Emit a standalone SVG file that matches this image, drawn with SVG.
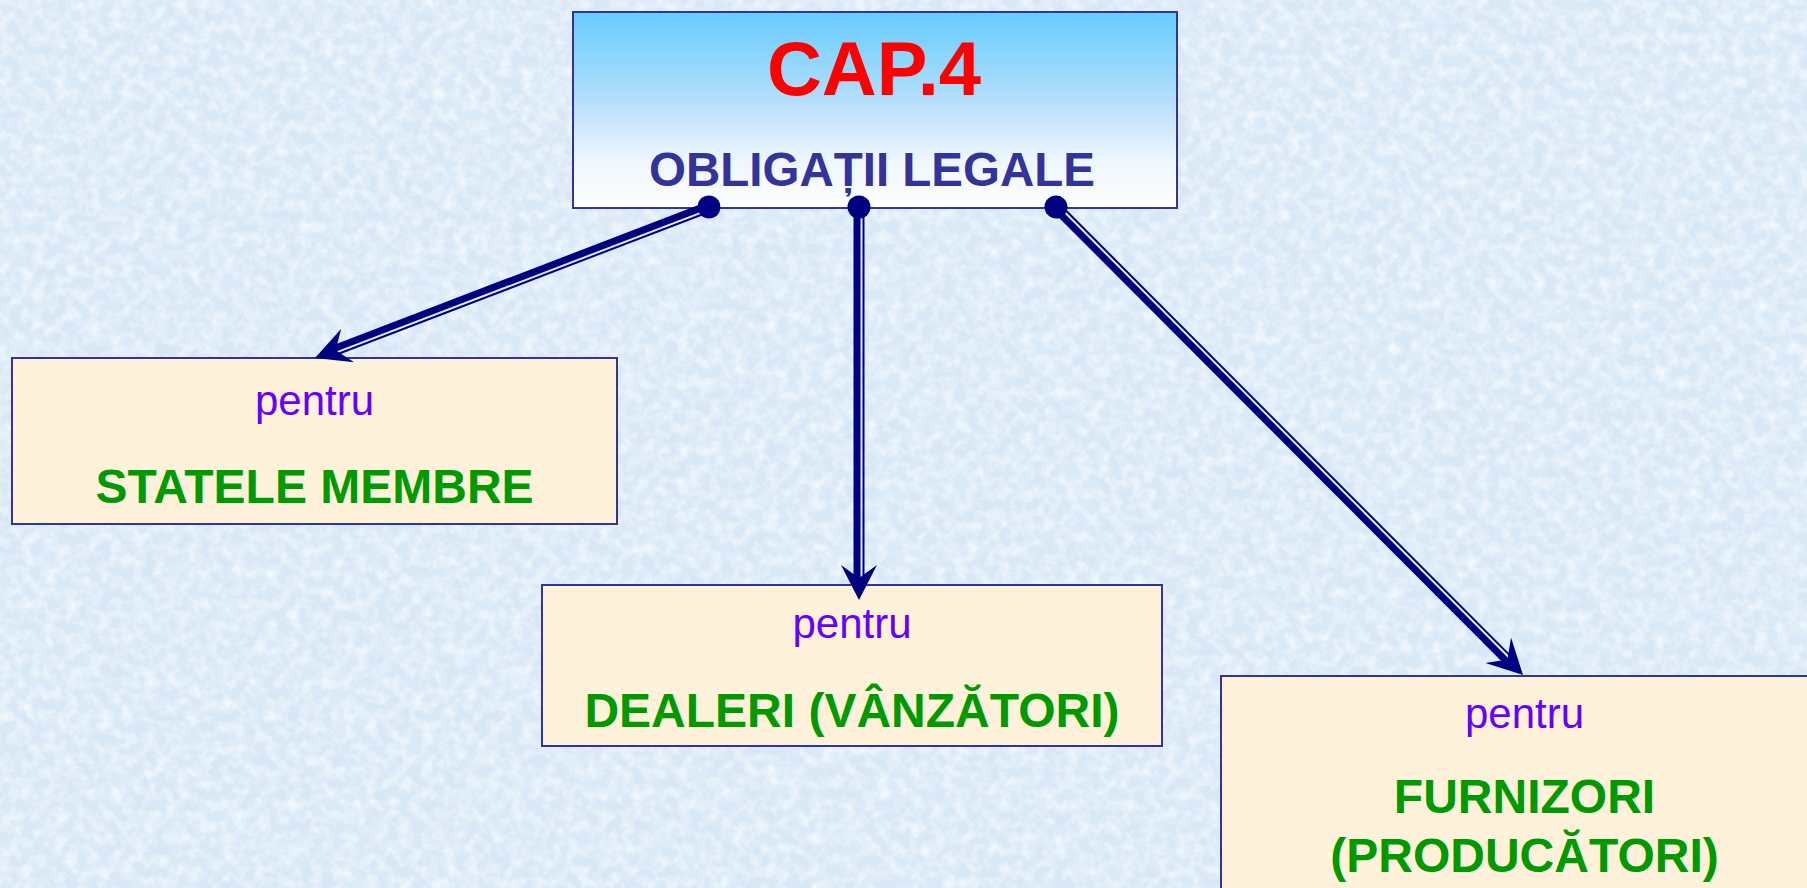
<svg xmlns="http://www.w3.org/2000/svg" width="1807" height="888" viewBox="0 0 1807 888">
<defs>
<style>
.t{font-family:"Liberation Sans",Arial,Helvetica,sans-serif;text-anchor:middle}
.b{font-weight:bold}
.box{stroke:#333399;stroke-width:2}
.yel{fill:#FEF2DA}
.pentru{font-size:42px;fill:#6600FF}
.green{font-size:48px;fill:#009900;font-weight:bold}
.thick{stroke:#000080;stroke-width:7;fill:none}
.thin{stroke:#000080;stroke-width:2;fill:none}
.axis{stroke:none;fill:none;marker-start:url(#dot);marker-end:url(#arrow)}
</style>
<linearGradient id="topgrad" x1="0" y1="0" x2="0" y2="1">
<stop offset="0" stop-color="#66CCFF"/>
<stop offset="0.45" stop-color="#B5DEFB"/>
<stop offset="0.75" stop-color="#EDF6FE"/>
<stop offset="1" stop-color="#FFFFFF"/>
</linearGradient>
<marker id="arrow" viewBox="-40 -40 80 80" markerWidth="80" markerHeight="80" markerUnits="userSpaceOnUse" refX="0" refY="0" orient="auto">
<path d="M0,0 L-35,-18 L-22,0 L-35,18 Z" fill="#000080"/>
</marker>
<marker id="dot" viewBox="-15 -15 30 30" markerWidth="30" markerHeight="30" markerUnits="userSpaceOnUse" refX="0" refY="0" orient="auto">
<circle cx="0" cy="0" r="11.5" fill="#000080"/>
</marker>
<filter id="tex" x="0" y="0" width="100%" height="100%">
<feTurbulence type="fractalNoise" baseFrequency="0.09" numOctaves="3" seed="7"/>
<feColorMatrix type="matrix" values="0 0 0 0 1  0 0 0 0 1  0 0 0 0 1  1.8 0 0 0 -0.65"/>
</filter>
<filter id="tex2" x="0" y="0" width="100%" height="100%">
<feTurbulence type="fractalNoise" baseFrequency="0.03" numOctaves="2" seed="21"/>
<feColorMatrix type="matrix" values="0 0 0 0 0.72  0 0 0 0 0.86  0 0 0 0 0.98  0 1.4 0 0 -0.5"/>
</filter>
</defs>
<rect x="0" y="0" width="1807" height="888" fill="#D8E7F6"/>
<rect x="0" y="0" width="1807" height="888" filter="url(#tex2)" opacity="0.6"/>
<rect x="0" y="0" width="1807" height="888" filter="url(#tex)" opacity="0.75"/>

<g id="node-cap4">
<rect class="box" x="573" y="12" width="604" height="196" fill="url(#topgrad)"/>
<text class="t b" x="874" y="95" font-size="76" fill="#FF0000">CAP.4</text>
<text class="t b" x="872" y="186" font-size="47.5" fill="#333399">OBLIGAȚII LEGALE</text>
</g>

<g id="node-statele">
<rect class="box yel" x="12" y="358" width="605" height="166"/>
<text class="t pentru" x="314.5" y="415">pentru</text>
<text class="t green" x="314.5" y="503">STATELE MEMBRE</text>
</g>

<g id="node-dealeri">
<rect class="box yel" x="542" y="585" width="620" height="161"/>
<text class="t pentru" x="852" y="638">pentru</text>
<text class="t green" x="852" y="727">DEALERI (VÂNZĂTORI)</text>
</g>

<g id="node-furnizori">
<rect class="box yel" x="1221" y="676" width="610" height="230"/>
<text class="t pentru" x="1524.5" y="728">pentru</text>
<text class="t green" x="1524.5" y="813">FURNIZORI</text>
<text class="t green" x="1524.5" y="872">(PRODUCĂTORI)</text>
</g>

<g id="connectors">
<path class="thick" d="M708.28,205.13 L332.96,348.97"/>
<path class="thin" d="M710.61,211.20 L335.29,355.04"/>
<path class="axis" d="M709,207 L315,358"/>

<path class="thick" d="M857,207 L857,580"/>
<path class="thin" d="M863.5,207 L863.5,580"/>
<path class="axis" d="M859,207 L859,600"/>

<path class="thick" d="M1054.58,208.41 L1507.46,662.25"/>
<path class="thin" d="M1059.19,203.82 L1512.06,657.66"/>
<path class="axis" d="M1056,207 L1523,675"/>
</g>
</svg>
